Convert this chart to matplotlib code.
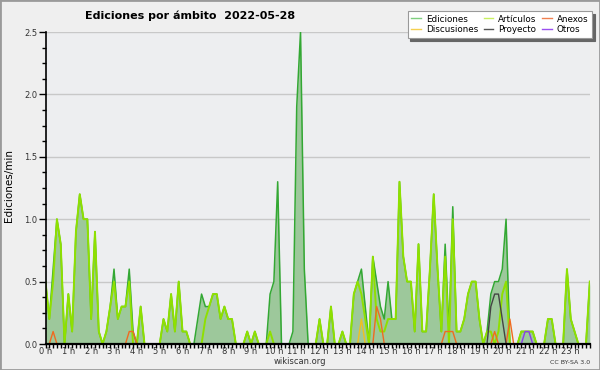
"""Edits per namespace over one day, 10-minute slots (wikiscan style)."""

import numpy as np
import matplotlib

matplotlib.use("Agg")
import matplotlib.pyplot as plt
from matplotlib.patches import Rectangle
from matplotlib.ticker import MultipleLocator, FixedLocator

# one row per hour, six 10-minute slots each
ediciones = [
    0.5, 0.2, 0.6, 1.0, 0.8, 0.0,
    0.4, 0.1, 0.9, 1.2, 1.0, 1.0,
    0.2, 0.9, 0.1, 0.0, 0.1, 0.3,
    0.6, 0.2, 0.3, 0.3, 0.6, 0.1,
    0.0, 0.3, 0.0, 0.0, 0.0, 0.0,
    0.0, 0.2, 0.1, 0.4, 0.1, 0.5,
    0.1, 0.1, 0.0, 0.0, 0.2, 0.4,
    0.3, 0.3, 0.4, 0.4, 0.2, 0.3,
    0.2, 0.2, 0.0, 0.0, 0.0, 0.1,
    0.0, 0.1, 0.0, 0.0, 0.0, 0.4,
    0.5, 1.3, 0.0, 0.0, 0.0, 0.1,
    1.9, 2.5, 0.6, 0.0, 0.0, 0.0,
    0.2, 0.0, 0.0, 0.3, 0.0, 0.0,
    0.1, 0.0, 0.0, 0.4, 0.5, 0.6,
    0.3, 0.0, 0.7, 0.5, 0.3, 0.2,
    0.5, 0.2, 0.2, 1.3, 0.7, 0.5,
    0.5, 0.1, 0.8, 0.1, 0.1, 0.6,
    1.2, 0.6, 0.1, 0.8, 0.1, 1.1,
    0.1, 0.1, 0.2, 0.4, 0.5, 0.5,
    0.2, 0.0, 0.1, 0.4, 0.5, 0.5,
    0.6, 1.0, 0.0, 0.0, 0.0, 0.1,
    0.1, 0.1, 0.1, 0.0, 0.0, 0.0,
    0.2, 0.2, 0.0, 0.0, 0.0, 0.6,
    0.2, 0.1, 0.0, 0.0, 0.0, 0.5,
]

articulos = [
    0.5, 0.2, 0.5, 1.0, 0.8, 0.0,
    0.4, 0.1, 0.9, 1.2, 1.0, 1.0,
    0.2, 0.9, 0.1, 0.0, 0.1, 0.3,
    0.5, 0.2, 0.3, 0.3, 0.5, 0.0,
    0.0, 0.3, 0.0, 0.0, 0.0, 0.0,
    0.0, 0.2, 0.1, 0.4, 0.1, 0.5,
    0.1, 0.1, 0.0, 0.0, 0.0, 0.0,
    0.2, 0.3, 0.4, 0.4, 0.2, 0.3,
    0.2, 0.2, 0.0, 0.0, 0.0, 0.1,
    0.0, 0.1, 0.0, 0.0, 0.0, 0.1,
    0.0, 0.0, 0.0, 0.0, 0.0, 0.0,
    0.0, 0.0, 0.0, 0.0, 0.0, 0.0,
    0.2, 0.0, 0.0, 0.3, 0.0, 0.0,
    0.1, 0.0, 0.0, 0.4, 0.5, 0.4,
    0.2, 0.0, 0.7, 0.2, 0.1, 0.1,
    0.2, 0.2, 0.2, 1.3, 0.7, 0.5,
    0.5, 0.1, 0.8, 0.1, 0.1, 0.6,
    1.2, 0.6, 0.1, 0.7, 0.0, 1.0,
    0.1, 0.1, 0.2, 0.4, 0.5, 0.5,
    0.2, 0.0, 0.1, 0.1, 0.0, 0.1,
    0.4, 0.5, 0.0, 0.0, 0.0, 0.1,
    0.1, 0.1, 0.1, 0.0, 0.0, 0.0,
    0.2, 0.2, 0.0, 0.0, 0.0, 0.6,
    0.2, 0.1, 0.0, 0.0, 0.0, 0.5,
]

# sparse series: hour -> its six slots
anexos_h = {0: [0, 0, 0.1, 0, 0, 0], 3: [0, 0, 0, 0, 0.1, 0.1],
            14: [0, 0, 0, 0.3, 0.2, 0], 17: [0, 0, 0, 0.1, 0.1, 0.1],
            19: [0, 0, 0, 0, 0.1, 0], 20: [0, 0, 0.2, 0, 0, 0]}
discusiones_h = {13: [0, 0, 0, 0, 0, 0.2]}
proyecto_h = {19: [0, 0, 0, 0.3, 0.4, 0.4], 20: [0.2, 0, 0, 0, 0, 0]}
otros_h = {21: [0.1, 0.1, 0, 0, 0, 0]}

hour_labels = [f"{h} h" for h in range(24)]

C_EDIC = "#33a833"
C_ART = "#8fe000"
C_FILL = "#9dc89b"
C_ANEX = "#f06a20"
C_DISC = "#f0c020"
C_PROY = "#444444"
C_OTROS = "#8a3cf0"


def expand(by_hour):
    out = np.zeros(144)
    for h, vals in by_hour.items():
        out[h * 6:h * 6 + 6] = vals
    return out


def mask_flat(v):
    """Hide runs of zeros that are not next to a nonzero slot."""
    v = np.asarray(v, dtype=float)
    nz = v > 0
    keep = nz.copy()
    keep[1:] |= nz[:-1]
    keep[:-1] |= nz[1:]
    return np.where(keep, v, np.nan)


x = np.arange(144) / 6.0
edic = np.array(ediciones)
art = np.array(articulos)

fig = plt.figure(figsize=(6, 3.7), dpi=100, facecolor="#efefef")
ax = fig.add_axes([45.5 / 600, 26 / 370, 544.3 / 600, 312 / 370])
ax.set_facecolor("#edeef0")

for yv in np.arange(0.5, 2.51, 0.5):
    ax.axhline(yv, color="#c8c8c8", lw=1.0, zorder=0)

ax.fill_between(x, 0, edic, color=C_FILL, lw=0, zorder=1)
ax.plot(x, edic, color=C_EDIC, lw=1.1, zorder=2)
ax.plot(x, mask_flat(art), color=C_ART, lw=1.4, zorder=3)
ax.plot(x, mask_flat(expand(discusiones_h)), color=C_DISC, lw=1.0, zorder=4)
ax.plot(x, mask_flat(expand(anexos_h)), color=C_ANEX, lw=1.0, zorder=4)
ax.plot(x, mask_flat(expand(proyecto_h)), color=C_PROY, lw=1.0, zorder=4)
ax.plot(x, mask_flat(expand(otros_h)), color=C_OTROS, lw=1.0, zorder=4)

ax.set_xlim(0, 143 / 6)
ax.set_ylim(0, 2.5)

ax.xaxis.set_major_locator(FixedLocator(range(24)))
ax.set_xticklabels(hour_labels)
ax.xaxis.set_minor_locator(MultipleLocator(1 / 6))
ax.yaxis.set_major_locator(MultipleLocator(0.5))
ax.yaxis.set_minor_locator(MultipleLocator(0.125))
ax.yaxis.set_major_formatter(lambda v, pos: f"{v:.1f}")

ax.tick_params(axis="x", which="both", direction="out", length=3, width=1,
               labelsize=6, pad=-0.5, colors="black", labelcolor="#333333")
ax.tick_params(axis="y", which="major", direction="out", length=5, width=1,
               labelsize=6, pad=1, labelcolor="#333333")
ax.tick_params(axis="y", which="minor", direction="out", length=3, width=1)

for side in ("top", "right"):
    ax.spines[side].set_visible(False)
ax.spines["left"].set_linewidth(1.2)
ax.spines["bottom"].set_linewidth(1.6)
for sp in ax.spines.values():
    sp.set_zorder(6)

handles = [
    plt.Line2D([], [], color="#7fcf7f", lw=1, label="Ediciones"),
    plt.Line2D([], [], color="#f5d050", lw=1, label="Discusiones"),
    plt.Line2D([], [], color="#c8f060", lw=1, label="Artículos"),
    plt.Line2D([], [], color="#555555", lw=1, label="Proyecto"),
    plt.Line2D([], [], color="#f08050", lw=1, label="Anexos"),
    plt.Line2D([], [], color="#9a50f0", lw=1, label="Otros"),
]
leg = fig.legend(handles=handles, ncol=3, loc="upper right",
                 bbox_to_anchor=(592 / 600, 1 - 11 / 370), fontsize=6.3,
                 frameon=True, fancybox=False, shadow={"color": "#666666", "alpha": 1},
                 handlelength=1.1, handletextpad=0.6, columnspacing=0.6,
                 labelspacing=0.2, borderpad=0.4, borderaxespad=0)
leg.get_frame().set_edgecolor("#999999")
leg.get_frame().set_linewidth(0.8)
leg.get_frame().set_facecolor("white")

fig.text(85 / 600, 1 - 16 / 370, "Ediciones por ámbito  2022-05-28",
         fontsize=8, fontweight="bold", ha="left", va="center")
fig.text(9 / 600, 185 / 370, "Ediciones/min", rotation=90, fontsize=7.5,
         ha="center", va="center")
fig.text(300 / 600, 8 / 370, "wikiscan.org", fontsize=6, color="#333333",
         ha="center", va="center")
fig.text(590 / 600, 8 / 370, "CC BY-SA 3.0", fontsize=4.5, color="#333333",
         ha="right", va="center")

fig.patches.append(Rectangle((0, 0), 1, 1, transform=fig.transFigure,
                             fill=False, edgecolor="#9a9a9a", lw=2))

fig.savefig("out.png", dpi=100, facecolor=fig.get_facecolor())
plt.close(fig)
